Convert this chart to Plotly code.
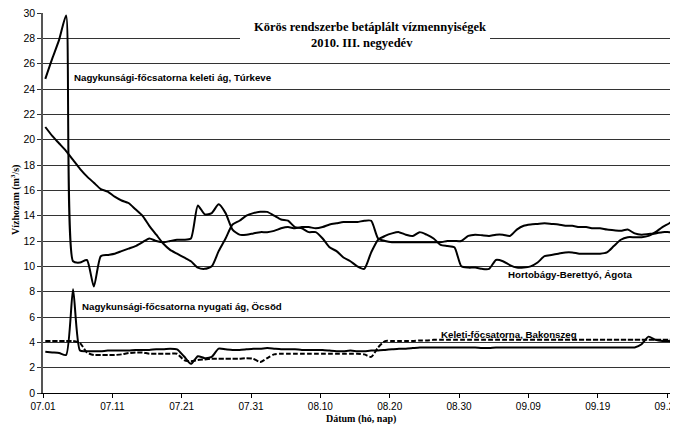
import pandas as pd
import plotly.graph_objects as go

# ---- data (daily values, 2010-07-01 .. 2010-09-30) ----
start_date = "2010-07-01 08:00"
n_days = 92

turkeve = [24.8, 26.4, 27.9, 29.8, 10.4, 10.3, 10.5, 8.4, 10.8, 10.9,
           11.0, 11.2, 11.4, 11.6, 11.9, 12.2, 12.0, 11.9, 12.0, 12.1,
           12.1, 12.2, 14.8, 14.1, 14.2, 14.9, 14.2, 12.9, 12.5, 12.5,
           12.6, 12.7, 12.7, 12.8, 13.0, 13.1, 13.0, 13.1, 13.1, 13.0,
           13.1, 13.3, 13.4, 13.5, 13.5, 13.5, 13.6, 13.6, 12.2, 12.0,
           11.9, 11.9, 11.9, 11.9, 11.9, 11.9, 11.9, 11.9, 12.0, 12.0,
           12.0, 12.4, 12.5, 12.45, 12.4, 12.5, 12.5, 12.4, 12.9, 13.2,
           13.3, 13.35, 13.4, 13.35, 13.3, 13.2, 13.2, 13.1, 13.1, 13.0,
           13.0, 12.9, 12.85, 12.8, 12.9, 12.6, 12.5, 12.55, 12.6, 12.7,
           12.7, 12.7]

agota = [21.0, 20.3, 19.7, 19.1, 18.4, 17.7, 17.1, 16.6, 16.1, 15.9,
         15.5, 15.2, 15.0, 14.5, 14.0, 13.2, 12.5, 11.8, 11.3, 11.0,
         10.7, 10.4, 9.9, 9.8, 10.0, 11.2, 12.2, 13.3, 13.6, 14.0,
         14.2, 14.3, 14.3, 14.0, 13.7, 13.6, 13.1, 13.0, 12.7, 12.7,
         12.2, 11.5, 11.2, 10.7, 10.4, 10.0, 9.8, 11.1, 12.1, 12.4,
         12.6, 12.7, 12.5, 12.4, 12.7, 12.5, 12.2, 11.7, 11.6, 11.5,
         10.0, 9.9, 9.9, 9.8, 9.8, 10.5, 10.4, 10.1, 9.9, 9.9,
         10.0, 10.3, 10.8, 10.9, 11.0, 11.1, 11.1, 11.0, 11.0, 11.0,
         11.0, 11.1, 11.6, 12.1, 12.3, 12.3, 12.3, 12.4, 12.7, 13.1,
         13.4, 13.8]

ocsod = [3.25, 3.2, 3.15, 3.0, 8.2, 3.35, 3.3, 3.3, 3.3, 3.35,
         3.35, 3.35, 3.35, 3.4, 3.4, 3.4, 3.45, 3.45, 3.5, 3.45,
         2.9, 2.3, 2.9, 2.75, 2.85, 3.5, 3.45, 3.4, 3.4, 3.45,
         3.5, 3.5, 3.55, 3.5, 3.45, 3.45, 3.45, 3.4, 3.4, 3.4,
         3.4, 3.35, 3.3, 3.3, 3.35, 3.3, 3.3, 3.35, 3.35, 3.4,
         3.45, 3.5, 3.5, 3.55, 3.6, 3.6, 3.6, 3.6, 3.6, 3.6,
         3.6, 3.6, 3.6, 3.55, 3.55, 3.6, 3.6, 3.6, 3.6, 3.6,
         3.6, 3.6, 3.6, 3.6, 3.6, 3.6, 3.6, 3.6, 3.6, 3.6,
         3.6, 3.6, 3.6, 3.6, 3.6, 3.6, 3.85, 4.45, 4.2, 4.1,
         4.1, 3.95]

bakonszeg = [4.1, 4.1, 4.1, 4.1, 4.1, 3.95, 3.2, 3.0, 3.0, 3.0,
             3.0, 3.05, 3.15, 3.2, 3.2, 3.1, 3.1, 3.1, 3.1, 3.1,
             2.6, 2.5, 2.6, 2.65, 2.7, 2.7, 2.7, 2.7, 2.7, 2.75,
             2.7, 2.45, 2.75, 3.05, 3.1, 3.1, 3.1, 3.1, 3.1, 3.1,
             3.1, 3.1, 3.1, 3.1, 3.1, 3.1, 3.05, 2.85, 3.6, 4.1,
             4.1, 4.1, 4.1, 4.1, 4.15, 4.15, 4.2, 4.2, 4.2, 4.2,
             4.2, 4.2, 4.2, 4.2, 4.2, 4.2, 4.2, 4.2, 4.2, 4.2,
             4.2, 4.2, 4.2, 4.2, 4.2, 4.2, 4.2, 4.2, 4.2, 4.2,
             4.2, 4.2, 4.2, 4.2, 4.2, 4.2, 4.2, 4.2, 4.2, 4.2,
             4.2, 4.2]

series_names = ["Nagykunsági-főcsatorna keleti ág, Túrkeve",
                "Hortobágy-Berettyó, Ágota",
                "Nagykunsági-főcsatorna nyugati ág, Öcsöd",
                "Keleti-főcsatorna, Bakonszeg"]

title_lines = ["Körös rendszerbe betáplált vízmennyiségek", "2010. III. negyedév"]
y_title = "Vízhozam (m<sup>3</sup>/s)"
x_title = "Dátum (hó, nap)"

dates = pd.date_range(start_date, periods=n_days, freq="D")

# ---- layout geometry (page pixels; the page body has an 8px margin) ----
BODY = 8
PL, PT, PR, PB = 43, 13, 678, 393          # plot area in page pixels
EXTRA_R = 12                               # room for the last tick label
W, H = 678 - BODY + EXTRA_R, 427 - BODY
L, T = PL - BODY, PT - BODY
R = W - (PR - BODY)
B = H - (PB - BODY)
pw, ph = PR - PL, PB - PT


def px_x(px):
    return (px - PL) / pw


def px_y(py):
    return (PB - py) / ph


fig = go.Figure()
line_style = dict(color="black", width=2, shape="spline", smoothing=0.6)
for name, vals in [(series_names[0], turkeve), (series_names[1], agota),
                   (series_names[2], ocsod)]:
    fig.add_trace(go.Scatter(x=dates, y=vals, mode="lines", name=name,
                             line=line_style))
fig.add_trace(go.Scatter(x=dates, y=bakonszeg, mode="lines", name=series_names[3],
                         line=dict(color="black", width=2, dash="5px,2px",
                                   shape="spline", smoothing=0.6)))

sans = "Liberation Sans, Arial, sans-serif"
serif = "Liberation Serif, Times New Roman, serif"

fig.update_layout(
    width=W, height=H,
    margin=dict(l=L, r=R, t=T, b=B, autoexpand=False),
    paper_bgcolor="white", plot_bgcolor="white",
    showlegend=False,
    font=dict(family=sans, size=10, color="black"),
)

fig.update_xaxes(
    type="date",
    range=["2010-07-01 00:00", "2010-09-30 14:00"],
    tick0="2010-07-01", dtick=10 * 86400000, tickformat="%m.%d",
    ticks="outside", ticklen=4, tickcolor="black", tickwidth=1,
    showline=True, linecolor="black", linewidth=1,
    showgrid=False, zeroline=False, automargin=False,
    ticklabeloverflow="allow",
    tickfont=dict(family=sans, size=10, color="black"),
)
fig.update_yaxes(
    range=[0, 30], dtick=2,
    ticks="outside", ticklen=4, tickcolor="#333", tickwidth=1,
    showline=True, linecolor="#555", linewidth=1.5,
    showgrid=True, gridcolor="#333", gridwidth=1,
    zeroline=False, automargin=False,
    ticklabeloverflow="allow",
    tickfont=dict(family=sans, size=10.5, color="black"),
)

# white box behind the title (hides grid line)
fig.add_shape(type="rect", xref="paper", yref="paper",
              x0=px_x(240), x1=px_x(490), y0=px_y(50), y1=px_y(18),
              fillcolor="white", line=dict(width=0), layer="above")

anns = [
    dict(text="<b>%s</b>" % title_lines[0], x=px_x(370), y=px_y(27),
         font=dict(family=serif, size=12.5), xanchor="center"),
    dict(text="<b>%s</b>" % title_lines[1], x=px_x(362), y=px_y(43),
         font=dict(family=serif, size=12.5), xanchor="center"),
    dict(text="<b>%s</b>" % y_title, x=px_x(15), y=px_y(200), textangle=-90,
         font=dict(family=serif, size=10), xanchor="center"),
    dict(text="<b>%s</b>" % x_title, x=px_x(361), y=px_y(419),
         font=dict(family=serif, size=10), xanchor="center"),
    dict(text="<b>%s</b>" % series_names[0], x=px_x(73), y=px_y(77.5),
         font=dict(family=sans, size=9.7), xanchor="left"),
    dict(text="<b>%s</b>" % series_names[2], x=px_x(81), y=px_y(306),
         font=dict(family=sans, size=9.7), xanchor="left"),
    dict(text="<b>%s</b>" % series_names[1], x=px_x(507), y=px_y(274.5),
         font=dict(family=sans, size=9.7), xanchor="left"),
    dict(text="<b>%s</b>" % series_names[3], x=px_x(440), y=px_y(334),
         font=dict(family=sans, size=9.7), xanchor="left"),
]
for a in anns:
    fig.add_annotation(xref="paper", yref="paper", showarrow=False,
                       yanchor="middle", borderpad=0, **a)

fig.write_html("out.html")
